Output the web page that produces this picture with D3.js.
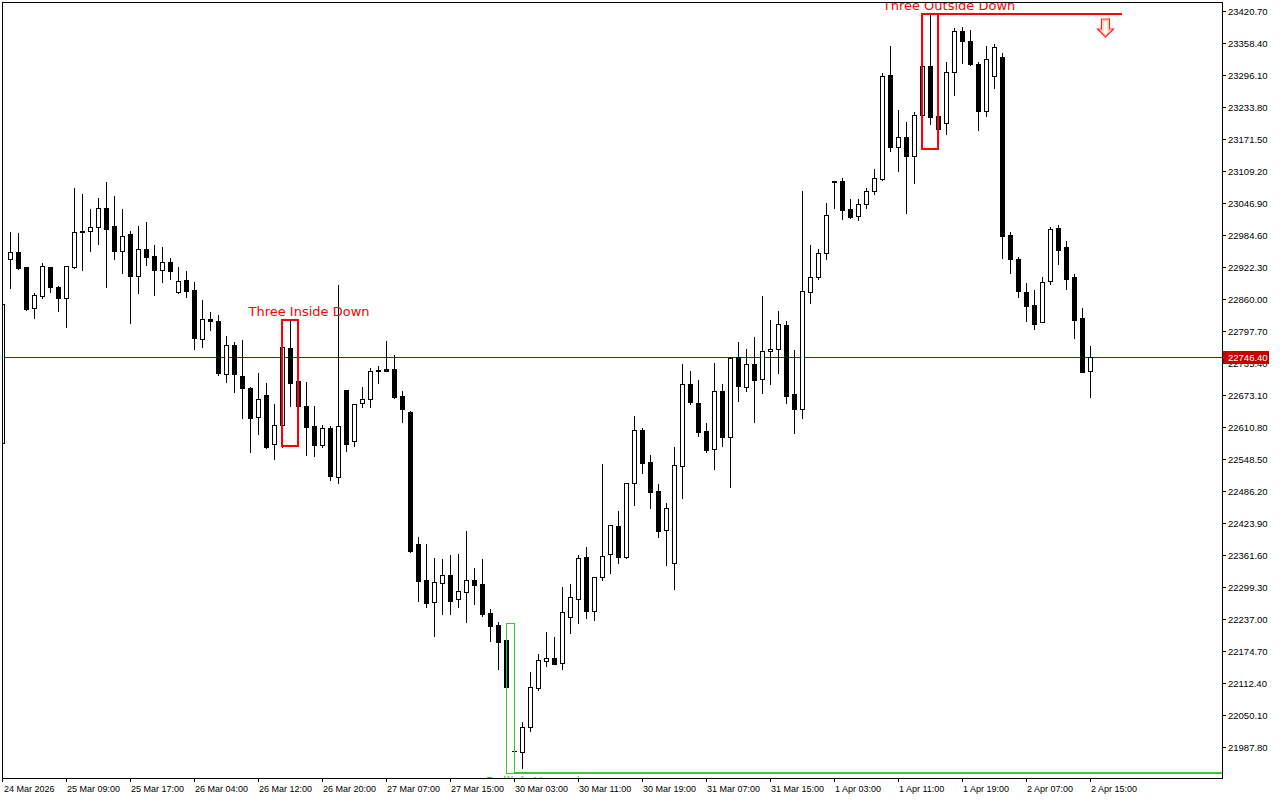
<!DOCTYPE html>
<html><head><meta charset="utf-8">
<script src="https://cdn.jsdelivr.net/npm/d3@7"></script>
<style>body{margin:0;background:#fff}svg{display:block}</style>
</head><body><svg id="c" width="1280" height="800"></svg>
<script>
// Hourly candles, oldest first (first one is cut by the left edge)
const opens=[22579.7,22937.3,22950.9,22921.7,22841.9,22866.4,22921.7,22882.8,22861.4,22922.9,22991.8,22991.8,22999.6,23036.6,23002.1,22952.9,22986.6,22905.4,22957.4,22943.7,22915.9,22931.5,22873.1,22896.4,22876.9,22781.6,22820.5,22816.6,22713.4,22769.9,22709.5,22686.2,22629.7,22672.5,22577.1,22614.1,22764.0,22700.4,22651.7,22612.8,22576.3,22608.3,22514.0,22682.8,22584.1,22657.0,22664.7,22720.0,22723.1,22723.1,22670.6,22639.4,22383.0,22312.9,22269.5,22306.5,22322.1,22275.4,22289.0,22312.4,22305.2,22248.7,22224.7,22195.5,21980.5,21978.7,22027.3,22103.3,22155.8,22160.5,22150.8,22241.5,22276.5,22357.1,22253.2,22318.2,22363.0,22417.5,22357.1,22501.2,22604.4,22542.1,22485.6,22409.7,22345.5,22534.3,22694.5,22657.5,22603.0,22567.4,22680.9,22591.9,22746.5,22688.1,22733.5,22703.7,22758.2,22762.1,22808.8,22674.5,22645.3,22874.2,22902.3,22949.0,23088.4,23089.2,23034.6,23021.0,23044.4,23069.7,23093.1,23296.1,23155.4,23176.0,23138.4,23217.7,23313.0,23215.7,23202.1,23301.4,23381.2,23361.7,23316.9,23225.4,23293.6,23331.2,22984.0,22937.9,22873.1,22847.7,22815.8,22894.5,22997.7,22961.2,22902.3,22823.0,22720.4];
const highs=[22852.0,22989.9,22987.9,22921.7,22871.1,22929.5,22923.0,22885.3,22924.5,23075.5,23064.4,23035.2,23056.1,23087.2,23060.5,23035.2,22992.4,23002.1,23009.9,22965.1,22961.2,22939.8,22922.3,22914.5,22893.1,22858.1,22834.1,22828.9,22788.0,22776.3,22779.6,22688.0,22715.4,22697.1,22655.6,22767.0,22819.1,22721.8,22699.0,22651.7,22614.7,22612.8,22887.3,22682.8,22655.0,22688.1,22725.1,22729.6,22778.2,22750.4,22681.5,22641.0,22397.2,22383.0,22355.8,22353.8,22361.6,22363.6,22408.3,22335.7,22353.8,22256.5,22230.6,22229.8,22123.5,22035.9,22133.2,22168.3,22211.1,22201.4,22298.7,22304.6,22361.0,22377.2,22319.0,22538.2,22420.0,22447.3,22502.0,22632.2,22608.3,22555.7,22499.3,22462.3,22571.3,22733.5,22719.8,22702.3,22619.2,22736.0,22694.5,22746.5,22776.3,22762.7,22786.6,22865.9,22819.1,22836.6,22817.2,22760.7,23070.3,22965.1,22957.4,23046.3,23090.3,23095.6,23054.7,23054.7,23076.1,23113.1,23300.6,23352.6,23228.0,23204.6,23224.1,23337.0,23414.9,23298.1,23322.0,23388.2,23390.1,23383.7,23322.0,23352.6,23355.9,23338.4,22989.9,22941.8,22890.6,22877.5,22902.3,23000.8,23004.1,22972.9,22908.7,22842.5,22768.5];
const lows=[22578.0,22880.8,22917.8,22839.2,22823.6,22862.5,22874.2,22837.2,22806.1,22921.0,22916.5,22954.0,22967.1,22884.0,22937.9,22911.2,22813.9,22872.3,22926.2,22868.4,22893.7,22899.5,22872.0,22864.5,22763.2,22767.1,22799.7,22712.0,22699.0,22679.5,22628.9,22562.7,22597.2,22570.0,22547.9,22571.9,22651.7,22627.7,22556.3,22554.9,22572.5,22507.6,22502.4,22564.7,22574.4,22650.3,22650.3,22697.1,22720.0,22667.0,22621.1,22366.9,22272.6,22261.0,22204.5,22246.7,22246.7,22261.0,22231.8,22266.2,22243.4,22194.8,22140.2,22103.0,21936.6,21946.3,22019.5,22098.8,22146.1,22149.4,22139.7,22210.3,22229.8,22239.5,22235.1,22312.9,22327.2,22346.6,22356.0,22459.0,22521.8,22453.7,22397.2,22341.6,22296.0,22473.2,22655.6,22593.9,22562.1,22528.5,22574.4,22494.0,22662.0,22681.5,22621.1,22677.6,22695.1,22716.5,22657.0,22598.5,22628.9,22851.6,22898.4,22937.9,23037.8,23015.8,23018.3,23013.8,23037.8,23065.0,23092.0,23148.7,23109.8,23026.9,23086.4,23209.9,23200.7,23181.2,23180.7,23257.8,23318.9,23315.6,23188.4,23216.9,23270.2,22939.2,22910.0,22863.3,22817.8,22802.2,22815.0,22888.6,22928.2,22878.9,22784.7,22718.5,22669.8];
const closes=[22850.3,22950.9,22920.9,22840.5,22867.2,22923.7,22884.0,22861.4,22923.7,22989.9,22989.9,22999.6,23036.6,22996.9,22954.0,22982.1,22905.4,22956.8,22942.4,22917.1,22931.5,22915.1,22894.5,22876.2,22784.7,22820.5,22816.6,22716.5,22769.9,22713.4,22686.2,22628.9,22665.3,22572.5,22614.1,22766.0,22695.9,22652.3,22611.4,22576.3,22608.3,22516.0,22612.8,22577.7,22655.0,22665.3,22719.8,22720.8,22720.4,22668.6,22645.3,22370.0,22311.6,22267.6,22309.0,22322.1,22272.6,22290.9,22312.4,22303.8,22246.7,22224.0,22192.8,22105.2,21979.4,22026.2,22104.0,22156.6,22160.5,22149.4,22250.1,22279.3,22355.2,22253.2,22318.2,22359.1,22419.4,22358.3,22501.2,22604.4,22541.3,22484.8,22408.9,22452.5,22536.2,22694.5,22658.9,22601.7,22566.0,22680.9,22591.9,22744.5,22691.2,22733.5,22702.3,22758.2,22762.1,22810.8,22671.7,22645.3,22875.0,22902.3,22949.0,23023.0,23089.7,23033.9,23020.2,23044.4,23069.7,23095.0,23293.6,23155.4,23176.0,23137.8,23217.7,23313.0,23213.8,23190.4,23301.4,23381.2,23361.7,23316.9,23225.4,23326.7,23350.0,22982.1,22937.3,22875.0,22847.0,22810.8,22892.5,22995.7,22956.0,22899.5,22819.7,22718.5,22746.4];

// time-axis labels, one every 8 bars starting at the first bar
const timeLabels=["24 Mar 2026","25 Mar 09:00","25 Mar 17:00","26 Mar 04:00","26 Mar 12:00","26 Mar 20:00","27 Mar 07:00","27 Mar 15:00","30 Mar 03:00","30 Mar 11:00","30 Mar 19:00","31 Mar 07:00","31 Mar 15:00","1 Apr 03:00","1 Apr 11:00","1 Apr 19:00","2 Apr 07:00","2 Apr 15:00"];
const priceTicks=[21987.80,22050.10,22112.40,22174.70,22237.00,22299.30,22361.60,22423.90,22486.20,22548.50,22610.80,22673.10,22735.40,22797.70,22860.00,22922.30,22984.60,23046.90,23109.20,23171.50,23233.80,23296.10,23358.40,23420.70];
const lastPrice=22746.40;

// pattern annotations: name, first bar, last bar, box top, box bottom
const patternNames=["Three Inside Down","Three Outside Down","Bullish Harami"];
const patternStart=[35,115,63];
const patternEnd=[37,117,64];
const patternTop=[22819.1,23414.9,22229.8];
const patternBottom=[22574.4,23152.6,21937.6];
const patternColors=["#ff0000","#ff0000","#32cd32"];
const patternLineEnd=[null,140,"edge"];
const arrowBar=138;

const svg=d3.select("#c");
const L=2,T=2,R=1222,B=778;
const x=d3.scaleLinear().domain([0,136]).range([2,1090]);
const y=d3.scaleLinear().domain([21987.8,23420.7]).range([747,11]);
const px=v=>Math.round(x(v));
const py=v=>Math.round(y(v));

svg.append("rect").attr("width",1280).attr("height",800).attr("fill","#fff");
svg.append("defs").append("clipPath").attr("id","plot").append("rect")
  .attr("x",L+1).attr("y",T+1).attr("width",R-L-1).attr("height",B-T-1);

const g=svg.append("g").attr("clip-path","url(#plot)").attr("shape-rendering","crispEdges");

// bid line
g.append("line").attr("x1",L).attr("x2",R).attr("y1",py(lastPrice)+0.5).attr("y2",py(lastPrice)+0.5)
  .attr("stroke","#8c1010").attr("stroke-width",1);

// candles
const idx=d3.range(opens.length);
const cg=g.append("g");
idx.forEach(i=>{
  const cx=px(i), o=opens[i], c=closes[i], h=highs[i], l=lows[i];
  cg.append("line").attr("x1",cx+0.5).attr("x2",cx+0.5)
    .attr("y1",py(h)).attr("y2",py(l)+1).attr("stroke","#000");
  const top=py(Math.max(o,c)), bot=py(Math.min(o,c));
  if(bot-top<1){
    cg.append("line").attr("x1",cx-2).attr("x2",cx+3).attr("y1",top+0.5).attr("y2",top+0.5).attr("stroke","#000");
  } else {
    cg.append("rect").attr("x",cx-1.5).attr("y",top+0.5).attr("width",4).attr("height",bot-top)
      .attr("fill",c>=o?"#fff":"#000").attr("stroke","#000");
  }
});

// pattern boxes, lines, text
patternNames.forEach((n,k)=>{
  const x0=px(patternStart[k]), x1=px(patternEnd[k]);
  const yt=py(patternTop[k]), yb=py(patternBottom[k]);
  const col=patternColors[k];
  const sw=col==="#32cd32"?1:2;
  const off=sw===1?0.5:0;
  g.append("rect").attr("x",x0+off).attr("y",yt+off).attr("width",x1-x0).attr("height",yb-yt)
    .attr("fill","none").attr("stroke",col).attr("stroke-width",sw);
  if(patternLineEnd[k]!==null){
    const ly=col==="#32cd32"?yb:yt;
    const xe=patternLineEnd[k]==="edge"?R:px(patternLineEnd[k]);
    g.append("line").attr("x1",x1).attr("x2",xe).attr("y1",ly).attr("y2",ly)
      .attr("stroke",col).attr("stroke-width",2);
  }
  const ty=col==="#32cd32"?yb+13:yt-4;
  g.append("text").attr("x",x0+27).attr("y",ty).attr("text-anchor","middle")
    .attr("font-family","DejaVu Sans").attr("font-size",13).attr("fill",col).text(n);
});

// sell arrow near the Three Outside Down line
{
  const ax=px(arrowBar)-0.5, ay=py(patternTop[1])+5;
  const p=`M${ax-4},${ay} L${ax+4},${ay} L${ax+4},${ay+10} L${ax+8},${ay+10} L${ax},${ay+18} L${ax-8},${ay+10} L${ax-4},${ay+10} Z`;
  g.append("path").attr("d",p).attr("fill","#fff").attr("stroke","#ff2020").attr("stroke-width",1.2)
    .attr("shape-rendering","geometricPrecision");
  const p2=`M${ax-2.5},${ay+1.5} L${ax+2.5},${ay+1.5} L${ax+2.5},${ay+11.5} L${ax+5},${ay+11.5} L${ax},${ay+16} L${ax-5},${ay+11.5} L${ax-2.5},${ay+11.5} Z`;
  g.append("path").attr("d",p2).attr("fill","none").attr("stroke","#ffb060").attr("stroke-width",0.8)
    .attr("shape-rendering","geometricPrecision");
}

// frame
svg.append("rect").attr("x",L+0.5).attr("y",T+0.5).attr("width",R-L).attr("height",B-T)
  .attr("fill","none").attr("stroke","#000").attr("shape-rendering","crispEdges");

// price axis
const fnt="Liberation Sans";
priceTicks.forEach(v=>{
  const yy=py(v);
  svg.append("line").attr("x1",R).attr("x2",R+4).attr("y1",yy+0.5).attr("y2",yy+0.5).attr("stroke","#000").attr("shape-rendering","crispEdges");
  svg.append("text").attr("x",R+6).attr("y",yy+4).attr("font-family",fnt).attr("font-size",9.5)
    .attr("fill","#000").text(d3.format(".2f")(v));
});
// last price label
{
  const yy=py(lastPrice);
  svg.append("rect").attr("x",R+1).attr("y",yy-6).attr("width",46).attr("height",13).attr("fill","#c80000");
  svg.append("text").attr("x",R+6).attr("y",yy+4).attr("font-family",fnt).attr("font-size",9.5)
    .attr("fill","#fff").text(d3.format(".2f")(lastPrice));
}

// time axis
timeLabels.forEach((t,k)=>{
  const xx=px(k*8);
  svg.append("line").attr("x1",xx+0.5).attr("x2",xx+0.5).attr("y1",B).attr("y2",B+4).attr("stroke","#000").attr("shape-rendering","crispEdges");
  svg.append("text").attr("x",Math.max(xx+1,4)).attr("y",B+14).attr("font-family",fnt).attr("font-size",9)
    .attr("fill","#000").text(t);
});
</script></body></html>
